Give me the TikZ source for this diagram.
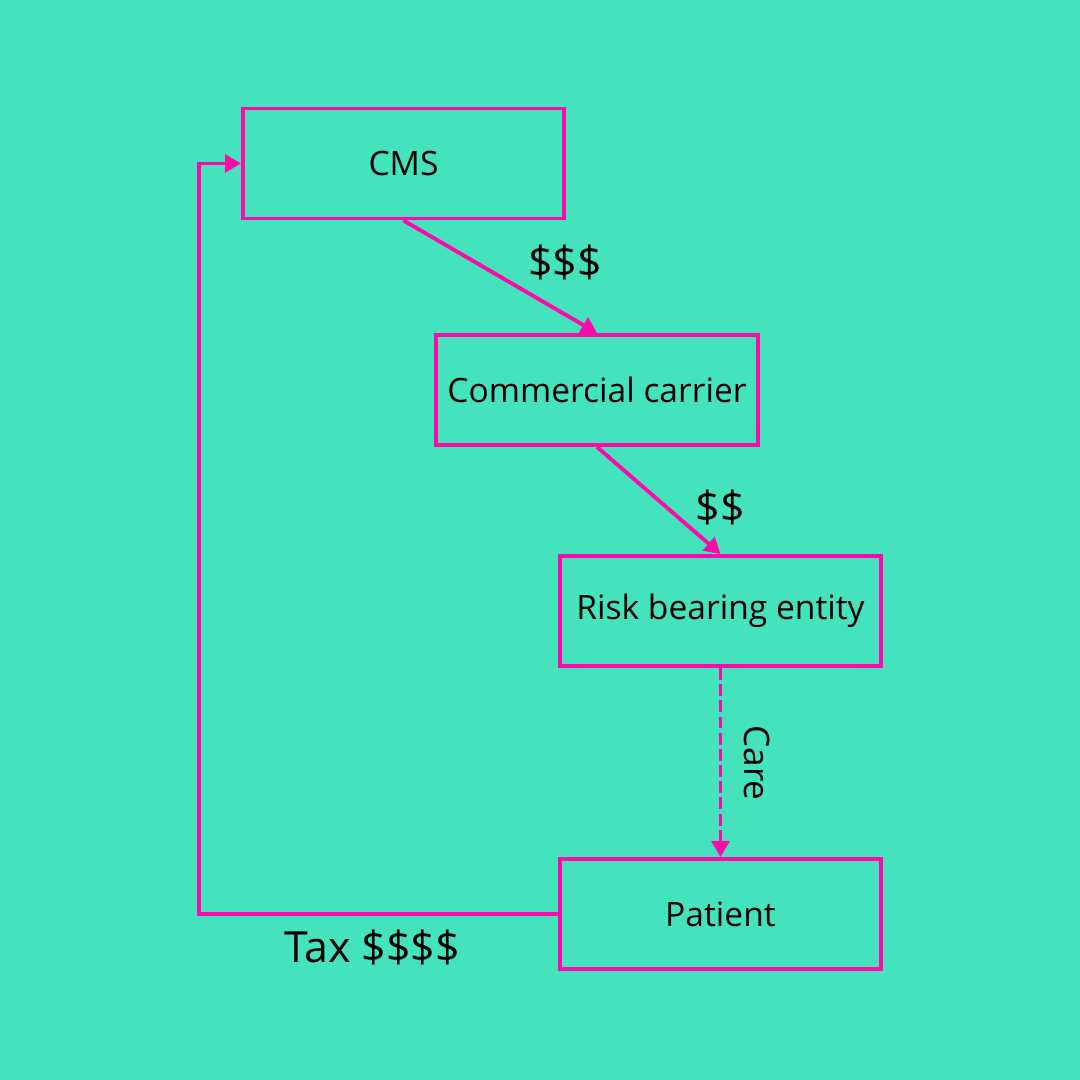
\documentclass[tikz,border=0pt]{standalone}
\usepackage{fontspec}
\setmainfont{Open Sans}
\usetikzlibrary{positioning, calc, arrows.meta}
\definecolor{FlowBg}{HTML}{45E3BD}
\definecolor{FlowPink}{HTML}{FF0AAA}

\begin{document}
\begin{tikzpicture}[x=0.01cm, y=-0.01cm,
    party/.style={draw=FlowPink, line width=1.1pt, minimum width=3.21cm, minimum height=1.1cm,
                  inner sep=0pt, font=\fontsize{9.55}{12}\selectfont},
    flow/.style={FlowPink, line width=1.1pt, -{Triangle[length=4.5pt, width=5pt]}},
    money/.style={font=\fontsize{12.2}{15}\selectfont}]
      \fill[FlowBg] (0,0) rectangle (1080,1080);
      %% Parties
      \node[party] (cms) at (403.5,163.5) {CMS};
      \node[party] (carrier) at (597,390) {Commercial carrier};
      \node[party] (rbe) at (720.5,611) {Risk bearing entity};
      \node[party] (patient) at (720.5,914) {Patient};
      %% Money and care flows
      \draw[flow] (cms.south) -- (carrier.north);
      \node[money] (m3) at (565,262) {\$\$\$};
      \draw[flow] (carrier.south) -- (rbe.north);
      \node[money] (m2) at (720,507) {\$\$};
      \draw[flow, dash pattern=on 3.4pt off 1.2pt] (rbe.south) -- (patient.north);
      \node[rotate=-90, font=\fontsize{10}{12}\selectfont] (care) at (757,763) {Care};
      %% Tax back to CMS
      \coordinate (taxcorner) at (199,914);
      \draw[flow] (patient.west) -- (taxcorner) |- (cms.west);
      \node[money] (tax) at (372,947) {Tax \$\$\$\$};
    \end{tikzpicture}
\end{document}
